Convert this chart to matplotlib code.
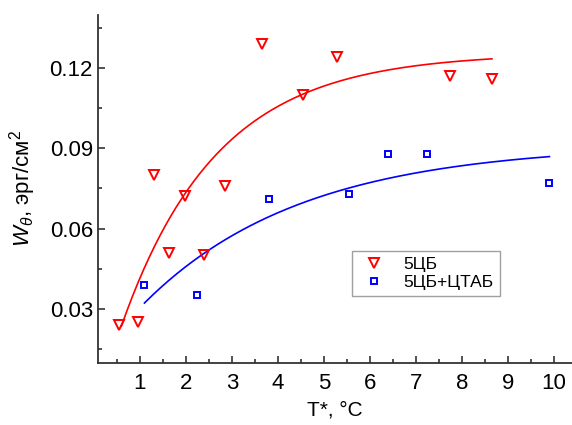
"""Anchoring energy W vs T* for 5CB and 5CB+CTAB, with exponential fits"""

import numpy as np
import matplotlib.pyplot as plt
from matplotlib.ticker import MultipleLocator

plt.rcParams['font.family'] = ['Liberation Sans', 'DejaVu Sans']
plt.rcParams['mathtext.fontset'] = 'custom'
plt.rcParams['mathtext.rm'] = 'Liberation Sans'
plt.rcParams['mathtext.it'] = 'Liberation Sans:italic'

# 5ЦБ points (red triangles)
t_5cb = [0.55, 0.95, 1.30, 1.64, 1.99, 2.40, 2.85, 3.65, 4.55, 5.29, 7.74, 8.66]
w_5cb = [0.024, 0.025, 0.080, 0.051, 0.072, 0.050, 0.076, 0.129, 0.110, 0.124, 0.117, 0.116]

# 5ЦБ+ЦТАБ points (blue squares)
t_ctab = [1.09, 2.25, 3.80, 5.54, 6.40, 7.25, 9.90]
w_ctab = [0.039, 0.035, 0.071, 0.073, 0.088, 0.088, 0.077]

# exponential fits y = y0 - A*exp(-x/t), parameters
FIT_5CB = dict(y0=0.1255, A=0.136, t=2.08, x0=0.6, x1=8.65)
FIT_CTAB = dict(y0=0.0915, A=0.0816, t=3.45, x0=1.1, x1=9.9)


def fit_curve(p):
    x = np.linspace(p["x0"], p["x1"], 200)
    return x, p["y0"] - p["A"] * np.exp(-x / p["t"])


fig = plt.figure(figsize=(5.72, 4.25), dpi=100)
ax = fig.add_axes([0.171, 0.146, 0.829, 0.819])

x, y = fit_curve(FIT_5CB)
ax.plot(x, y, color="red", lw=1.2)
x, y = fit_curve(FIT_CTAB)
ax.plot(x, y, color="blue", lw=1.2)

ax.plot(t_5cb, w_5cb, linestyle="none", marker="v", markersize=7,
        markerfacecolor="none", markeredgecolor="red", markeredgewidth=1.4, label="5ЦБ")
ax.plot(t_ctab, w_ctab, linestyle="none", marker="s", markersize=4.8,
        markerfacecolor="none", markeredgecolor="blue", markeredgewidth=1.4, label="5ЦБ+ЦТАБ")

ax.set_xlim(0.087, 10.39)
ax.set_ylim(0.0098, 0.1398)
ax.xaxis.set_major_locator(MultipleLocator(1))
ax.xaxis.set_minor_locator(MultipleLocator(0.5))
ax.yaxis.set_major_locator(MultipleLocator(0.03))
ax.yaxis.set_minor_locator(MultipleLocator(0.015))
ax.yaxis.set_major_formatter(plt.FormatStrFormatter("%.2f"))

for side in ["top", "right"]:
    ax.spines[side].set_visible(False)
for side in ["left", "bottom"]:
    ax.spines[side].set_linewidth(1.3)
    ax.spines[side].set_color("#333333")

ax.tick_params(which="both", direction="in", width=1.2, colors="#333333", labelcolor="black", labelsize=16)
ax.tick_params(which="major", length=5)
ax.tick_params(which="minor", length=3)
ax.tick_params(axis="x", pad=7)

ax.set_xlabel("T*, °C", fontsize=15, labelpad=5)
ax.set_ylabel(r"$W_\theta$, эрг/см$^2$", fontsize=16, labelpad=8)

leg = ax.legend(loc="upper left", bbox_to_anchor=(0.518, 0.348), fontsize=12.5,
                frameon=True, fancybox=False, edgecolor="#888888",
                handletextpad=0.8, borderpad=0.35, labelspacing=0.2, handlelength=1.8)
leg.get_frame().set_linewidth(1.0)

plt.savefig("out.png", dpi=100)
